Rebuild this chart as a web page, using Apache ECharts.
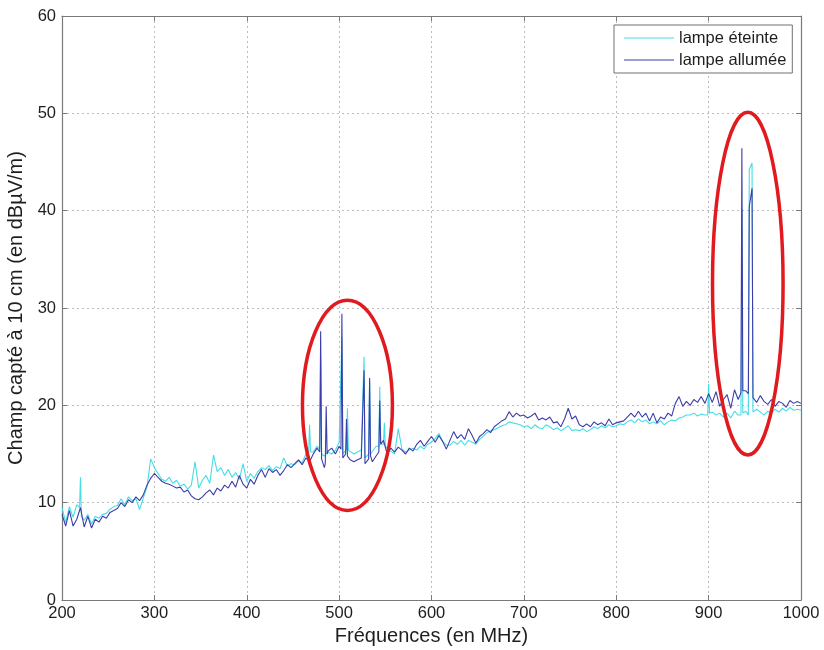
<!DOCTYPE html>
<html>
<head>
<meta charset="utf-8">
<script src="https://cdn.jsdelivr.net/npm/echarts@6/dist/echarts.min.js"></script>
<style>
html,body{margin:0;padding:0;background:#fff;}
#chart{width:824px;height:650px;}
</style>
</head>
<body>
<div id="chart"></div>
<script>
// ---- data ----
const seriesNames = ['lampe éteinte', 'lampe allumée'];
const xTicks = [200, 300, 400, 500, 600, 700, 800, 900, 1000];
const yTicks = [0, 10, 20, 30, 40, 50, 60];
// sampling grid of the baseline readings (MHz)
const freqStart = 200;
const freqStep = 4;

// lampe éteinte (off) baseline values, one per 4 MHz from 200 to 1000
const offBase = [
  9.5, 8.0, 9.6, 8.5, 9.8, 12.6, 8.2, 8.8, 7.8, 8.6,
  8.4, 8.8, 8.9, 9.3, 9.6, 9.7, 10.4, 9.8, 10.6, 10.2,
  10.4, 9.3, 10.5, 11.6, 14.5, 13.6, 13.0, 12.4, 12.2, 12.6,
  12.0, 12.3, 11.7, 11.9, 11.4, 11.8, 14.2, 11.5, 12.3, 12.8,
  12.0, 14.9, 13.2, 13.6, 12.8, 13.4, 12.6, 13.1, 12.4, 14.0,
  12.2, 13.0, 12.5, 13.2, 13.6, 13.4, 13.8, 13.3, 13.7, 13.5,
  14.6, 13.8, 14.0, 13.9, 14.3, 14.1, 15.0, 15.4, 15.2, 15.8,
  15.5, 14.8, 15.2, 15.0, 15.4, 16.2, 15.0, 15.5, 15.3, 15.0,
  15.2, 15.4, 14.6, 15.0, 15.0, 15.8, 15.8, 16.0, 15.6, 15.3,
  15.0, 17.6, 15.5, 15.2, 15.4, 15.6, 15.4, 15.8, 15.5, 16.0,
  16.2, 16.6, 17.1, 16.3, 15.9, 15.9, 16.3, 16.0, 16.4, 15.9,
  16.4, 16.2, 16.0, 16.5, 16.8, 17.2, 17.4, 17.5, 17.7, 17.9,
  18.0, 18.3, 18.2, 18.1, 18.0, 17.8, 17.9, 17.6, 18.0, 17.7,
  17.6, 18.0, 17.8, 17.5, 17.7, 17.4, 17.6, 17.9, 17.4, 17.5,
  17.4, 17.6, 17.3, 17.5, 17.8, 17.6, 17.9, 17.7, 18.0, 17.8,
  17.9, 18.1, 18.0, 18.3, 18.5, 18.2, 18.6, 18.3, 18.5, 18.1,
  18.3, 18.1, 18.4, 18.0, 18.3, 18.5, 18.4, 18.7, 18.8, 19.0,
  19.0, 19.2, 18.9, 19.1, 19.0, 19.3, 19.3, 19.0, 19.2, 18.8,
  19.2, 18.7, 19.4, 19.0, 19.1, 19.4, 19.2, 19.3, 19.6, 19.3,
  19.0, 19.4, 19.2, 19.6, 19.3, 19.7, 19.4, 19.8, 19.5, 19.6,
  19.5
];
// lampe allumée (on) baseline values
const onBase = [
  8.8, 7.6, 9.2, 7.6, 8.3, 9.5, 7.5, 8.6, 7.4, 8.3,
  8.0, 8.6, 8.4, 9.0, 9.2, 9.4, 10.0, 9.6, 10.3, 10.0,
  10.6, 10.2, 10.8, 11.8, 12.5, 13.0, 12.6, 12.2, 12.0, 11.9,
  11.7, 11.5, 11.6, 11.1, 11.3, 10.7, 10.4, 10.3, 10.6, 11.0,
  11.3, 10.8, 11.5, 11.2, 11.8, 11.5, 12.2, 11.6, 12.8, 11.9,
  11.5, 12.4, 11.9, 12.8, 13.4, 12.6, 13.5, 13.1, 13.4, 12.8,
  13.3, 13.9, 13.6, 14.0, 14.4, 13.9, 14.6, 14.2, 15.0, 15.6,
  15.4, 13.6, 15.3, 15.6, 15.0, 15.8, 14.6, 18.6, 14.4, 14.2,
  14.4, 14.6, 14.0, 14.5, 14.2, 14.8, 15.2, 16.4, 15.0, 15.6,
  15.2, 15.7, 15.4, 15.0, 15.6, 15.3, 16.0, 16.4, 15.8, 16.3,
  16.8, 16.2, 16.9, 16.3, 15.5, 16.4, 17.3, 16.6, 17.0, 16.5,
  17.6, 16.9, 16.1, 16.8, 17.1, 17.5, 17.2, 17.8, 18.1, 18.4,
  18.6, 19.35, 18.8, 19.2, 18.9, 19.0, 18.7, 18.9, 19.2, 18.5,
  18.7, 18.5, 18.8, 18.2, 18.3, 17.8, 18.6, 19.7, 18.6, 18.9,
  18.0, 17.8, 18.1, 17.8, 18.3, 18.0, 18.2, 17.9, 18.6, 18.0,
  18.2, 18.3, 18.4, 18.8, 19.2, 18.8, 19.4, 18.8, 19.2, 18.4,
  19.2, 18.2, 18.8, 18.6, 19.2, 18.9, 20.2, 20.9, 19.9, 20.4,
  20.0, 20.6, 20.3, 20.9, 20.2, 21.2, 20.3, 21.4, 19.9, 20.6,
  21.1, 19.7, 21.6, 20.6, 21.0, 21.5, 21.2, 20.8, 20.3, 21.0,
  20.4, 20.1, 20.6, 19.9, 20.4, 20.2, 19.8, 20.5, 20.2, 20.4,
  20.2
];
// narrow peaks [MHz, dBµV/m]
const offPeaks = [
  [219, 9.5], [220, 12.6], [221, 8.6],
  [467, 15.0], [468, 18.0], [469, 15.2],
  [479, 15.5], [480, 25.0], [481, 15.0],
  [502, 16.0], [503, 27.0], [504, 15.0],
  [508, 15.5], [509, 19.7], [510, 15.4],
  [526, 15.3], [527, 25.0], [528, 14.6],
  [532, 15.0], [533, 22.5], [534, 15.0],
  [543, 15.8], [544, 21.9], [545, 16.0],
  [548, 16.0], [549, 18.2], [550, 15.8],
  [899, 19.0], [900, 22.2], [901, 19.2],
  [935, 19.0], [936, 40.2], [937, 19.2],
  [943, 19.0], [944, 44.2], [947, 44.9], [948, 19.3]
];
const onPeaks = [
  [479, 15.2], [480, 27.6], [481, 14.5],
  [485, 14.0], [486, 19.9], [487, 15.0],
  [502, 15.5], [503, 29.4], [504, 14.6],
  [507, 15.0], [508, 18.6], [509, 14.8],
  [526, 14.8], [527, 23.6], [528, 14.0],
  [532, 14.5], [533, 22.8], [534, 14.8],
  [543, 15.2], [544, 20.5], [545, 16.0],
  [935, 21.3], [936, 46.4], [937, 21.5],
  [943, 21.2], [944, 40.4], [947, 42.3], [948, 20.8]
];
// red annotation ellipses: centre [MHz, dBµV/m], half-width MHz, half-height dBµV/m
const ellipseCenters = [[509, 20.0], [942.4, 32.5]];
const ellipseHalfW = [48.7, 38.2];
const ellipseHalfH = [10.8, 17.6];

function buildSeries(base, peaks) {
  const m = new Map();
  base.forEach((v, i) => m.set(freqStart + i * freqStep, v));
  peaks.forEach(([f, v]) => m.set(f, v));
  return Array.from(m.entries()).sort((a, b) => a[0] - b[0]);
}

const FONT = '"Liberation Sans", Arial, Helvetica, sans-serif';
const AXIS_COLOR = '#7a7a7a';
const TEXT_COLOR = '#1e1e1e';
const OFF_COLOR = '#46dde4';
const ON_COLOR = '#3d3daa';

const chart = echarts.init(document.getElementById('chart'), null, {renderer: 'canvas'});

const commonX = {
  type: 'value', min: xTicks[0], max: xTicks[xTicks.length - 1], interval: 100
};
const commonY = {
  type: 'value', min: yTicks[0], max: yTicks[yTicks.length - 1], interval: 10
};

const option = {
  backgroundColor: '#ffffff',
  animation: false,
  grid: {left: 62, right: 23, top: 16, bottom: 50, containLabel: false, outerBoundsMode: 'none'},
  legend: {
    data: [
      {name: seriesNames[0], icon: 'rect', itemStyle: {color: OFF_COLOR}},
      {name: seriesNames[1], icon: 'rect', itemStyle: {color: ON_COLOR}}
    ],
    orient: 'vertical',
    left: 614, top: 25,
    itemWidth: 50, itemHeight: 1.2, itemGap: 4,
    padding: [4, 6, 4, 10],
    backgroundColor: '#ffffff',
    borderColor: '#707070', borderWidth: 1, borderRadius: 0,
    textStyle: {fontFamily: FONT, fontSize: 16.5, color: TEXT_COLOR, lineHeight: 18},
    selectedMode: false
  },
  xAxis: [
    Object.assign({}, commonX, {
      position: 'bottom',
      name: 'Fréquences (en MHz)', nameLocation: 'middle', nameGap: 24,
      nameTextStyle: {fontFamily: FONT, fontSize: 20, color: TEXT_COLOR},
      axisLine: {show: true, onZero: false, lineStyle: {color: AXIS_COLOR, width: 1.2}},
      axisTick: {show: true, inside: true, length: 5, lineStyle: {color: AXIS_COLOR}},
      axisLabel: {fontFamily: FONT, fontSize: 16.5, color: TEXT_COLOR, margin: 5,
                  formatter: (v) => String(v)},
      splitLine: {show: true, lineStyle: {color: '#bdbdbd', type: [2, 3], width: 1}}
    }),
    Object.assign({}, commonX, {
      position: 'top',
      axisLine: {show: true, onZero: false, lineStyle: {color: AXIS_COLOR, width: 1.2}},
      axisTick: {show: true, inside: true, length: 5, lineStyle: {color: AXIS_COLOR}},
      axisLabel: {show: false},
      splitLine: {show: false}
    })
  ],
  yAxis: [
    Object.assign({}, commonY, {
      position: 'left',
      name: 'Champ capté à 10 cm (en dBµV/m)', nameLocation: 'middle', nameGap: 19,
      nameTextStyle: {fontFamily: FONT, fontSize: 20, color: TEXT_COLOR},
      axisLine: {show: true, onZero: false, lineStyle: {color: AXIS_COLOR, width: 1.2}},
      axisTick: {show: true, inside: true, length: 5, lineStyle: {color: AXIS_COLOR}},
      axisLabel: {fontFamily: FONT, fontSize: 16.5, color: TEXT_COLOR, margin: 6,
                  formatter: (v) => String(v)},
      splitLine: {show: true, lineStyle: {color: '#bdbdbd', type: [2, 3], width: 1}}
    }),
    Object.assign({}, commonY, {
      position: 'right',
      axisLine: {show: true, onZero: false, lineStyle: {color: AXIS_COLOR, width: 1.2}},
      axisTick: {show: true, inside: true, length: 5, lineStyle: {color: AXIS_COLOR}},
      axisLabel: {show: false},
      splitLine: {show: false}
    })
  ],
  series: [
    {
      name: seriesNames[0], type: 'line', xAxisIndex: 0, yAxisIndex: 0,
      data: buildSeries(offBase, offPeaks),
      symbol: 'none', showSymbol: false,
      lineStyle: {color: OFF_COLOR, width: 1.1},
      itemStyle: {color: OFF_COLOR},
      z: 2
    },
    {
      name: seriesNames[1], type: 'line', xAxisIndex: 0, yAxisIndex: 0,
      data: buildSeries(onBase, onPeaks),
      symbol: 'none', showSymbol: false,
      lineStyle: {color: ON_COLOR, width: 1.1},
      itemStyle: {color: ON_COLOR},
      z: 3
    }
  ]
};
chart.setOption(option);

// red ellipses positioned through the chart's scales
const ellipses = ellipseCenters.map((c, i) => {
  const p = chart.convertToPixel({gridIndex: 0}, c);
  const px = chart.convertToPixel({gridIndex: 0}, [c[0] + ellipseHalfW[i], c[1] + ellipseHalfH[i]]);
  return {
    type: 'ellipse',
    shape: {cx: p[0], cy: p[1], rx: Math.abs(px[0] - p[0]), ry: Math.abs(p[1] - px[1])},
    style: {fill: 'none', stroke: '#e01a1f', lineWidth: 3.5},
    z: 100, silent: true
  };
});
chart.setOption({graphic: ellipses});
</script>
</body>
</html>
